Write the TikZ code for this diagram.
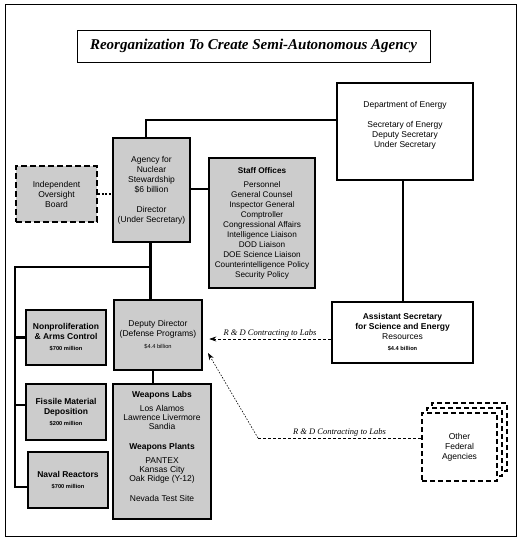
\documentclass[tikz,border=0pt]{standalone}
\usepackage{fontspec}
\setmainfont{Liberation Sans}
\newfontfamily\serifface{Liberation Serif}
\usetikzlibrary{arrows.meta}
\newcommand{\smallfnt}{\fontsize{5.7}{7}\selectfont}
\begin{document}
\begin{tikzpicture}[x=1pt,y=-1pt,
  box/.style={draw, line width=2.6pt, inner sep=0pt, fill=black!20},
  wbox/.style={draw, line width=2.6pt, inner sep=0pt, fill=white},
  dbox/.style={draw, line width=2.6pt, dash pattern=on 6pt off 3pt, inner sep=0pt, fill=black!20},
  obox/.style={draw, line width=2.2pt, dash pattern=on 5pt off 3pt, inner sep=0pt, fill=white,
               minimum width=75pt, minimum height=68pt},
  txt/.style={font=\fontsize{8.5}{10}\selectfont, align=center, inner sep=0pt},
  txtb/.style={font=\fontsize{8.5}{10}\selectfont\bfseries, align=center, inner sep=0pt},
  conn/.style={line width=2.6pt},
  lbl/.style={font=\serifface\itshape\fontsize{8.5}{10}\selectfont, inner sep=1pt},
  rd/.style={line width=0.6pt, dash pattern=on 3pt off 2pt},
]
\useasboundingbox (0,0) rectangle (522,542);
% outer frame
\node[draw, line width=1pt, minimum width=511pt, minimum height=532pt, inner sep=0pt] (frame) at (260.5,270) {};
% title
\node[draw, line width=1pt, minimum width=353pt, minimum height=32pt, inner sep=0pt,
      font=\serifface\bfseries\itshape\fontsize{15}{17}\selectfont] (title) at (253.5,46)
      {Reorganization To Create Semi-Autonomous Agency};

% Department of Energy
\node[wbox, minimum width=136pt, minimum height=97pt] (doe) at (405,131.5) {};
\node[txt] (doetxt) at ([yshift=6pt]doe.center)
  {Department of Energy\\[10pt]Secretary of Energy\\Deputy Secretary\\Under Secretary};

% Agency
\node[box, txt, minimum width=77pt, minimum height=104pt] (agency) at (151.5,190)
  {Agency for\\Nuclear\\Stewardship\\\$6 billion\\[10pt]Director\\(Under Secretary)};

% Independent Oversight Board
\node[dbox, txt, minimum width=81pt, minimum height=56pt] (iob) at (56.5,194)
  {Independent\\Oversight\\Board};

% Staff Offices
\node[box, txt, font=\fontsize{8.2}{10}\selectfont, minimum width=106pt, minimum height=130pt] (staff) at (262,223)
  {\textbf{Staff Offices}\\[4pt]Personnel\\General Counsel\\Inspector General\\Comptroller\\Congressional Affairs\\Intelligence Liaison\\DOD Liaison\\DOE Science Liaison\\Counterintelligence Policy\\Security Policy};

% Deputy Director
\node[box, txt, minimum width=88pt, minimum height=70pt] (deputy) at (158,335)
  {Deputy Director\\(Defense Programs)\\[2pt]{\smallfnt \$4.4 billion}};

% Left column
\node[box, txtb, minimum width=80pt, minimum height=55pt] (nonpro) at (66,337.5)
  {Nonproliferation\\\& Arms Control\\[1pt]{\smallfnt \$700 million}};
\node[box, txtb, minimum width=80pt, minimum height=56pt] (fissile) at (66,412)
  {Fissile Material\\Deposition\\[1pt]{\smallfnt \$200 million}};
\node[box, txtb, minimum width=80pt, minimum height=56pt] (naval) at (68,480)
  {Naval Reactors\\[1pt]{\smallfnt \$700 million}};

% Weapons
\node[box, minimum width=98pt, minimum height=135pt] (weapons) at (162,451.5) {};
\node[txt] (weaptxt) at ([yshift=5pt]weapons.center)
  {\textbf{Weapons Labs}\\[4pt]Los Alamos\\[-1pt]Lawrence Livermore\\[-1pt]Sandia\\[10pt]\textbf{Weapons Plants}\\[4pt]PANTEX\\[-1pt]Kansas City\\[-1pt]Oak Ridge (Y-12)\\[10pt]Nevada Test Site};

% Assistant Secretary
\node[wbox, txt, minimum width=141pt, minimum height=61pt] (asst) at (402.5,332.5)
  {\textbf{Assistant Secretary}\\\textbf{for Science and Energy}\\Resources\\[1pt]{\smallfnt\bfseries \$4.4 billion}};

% Other Federal Agencies
\node[obox] (ofab) at (469.5,437) {};
\node[obox] (ofam) at (464.5,442) {};
\node[obox, txt] (ofaf) at (459.5,447) {Other\\Federal\\Agencies};

% connectors
\draw[conn] ([xshift=-5.5pt]agency.north) |- ([yshift=11.5pt]doe.west);
\draw[line width=2.6pt, dash pattern=on 2pt off 1.5pt] (iob.east) -- (iob.east -| agency.west);
\draw[conn] ([yshift=1pt]agency.east) -- ([yshift=1pt]agency.east -| staff.west);
\draw[conn] ([xshift=-1pt]agency.south) -- ([xshift=-1pt]agency.south |- deputy.north);
\coordinate (br) at (150.5,267);
\coordinate (lb) at (15,487);
\draw[conn] (br) -| (lb) -- (lb -| naval.west);
\draw[conn] (nonpro.west) -- (nonpro.west -| lb);
\draw[conn] ([yshift=7pt]fissile.west) -- ([yshift=7pt]fissile.west -| lb);
\draw[conn] ([xshift=-5pt]deputy.south) -- ([xshift=-5pt]deputy.south |- weapons.north);
\draw[conn] ([xshift=-2pt]doe.south) -- ([xshift=-2pt]doe.south |- asst.north);

% R&D arrows
\draw[rd, -{Stealth[length=7pt,width=5pt]}] ([yshift=-6.5pt]asst.west) --
  node[above, lbl] {R \& D Contracting to Labs} ([xshift=6pt,yshift=-4pt]deputy.east);
\coordinate (bend) at (258,438);
\coordinate (tip) at (208,353);
\draw[rd] ([yshift=9pt]ofaf.west) -- node[above, lbl] {R \& D Contracting to Labs} (bend);
\draw[line width=0.6pt, dash pattern=on 1.5pt off 1.5pt, -{Stealth[length=7pt,width=5pt]}] (bend) -- (tip);
\end{tikzpicture}
\end{document}
